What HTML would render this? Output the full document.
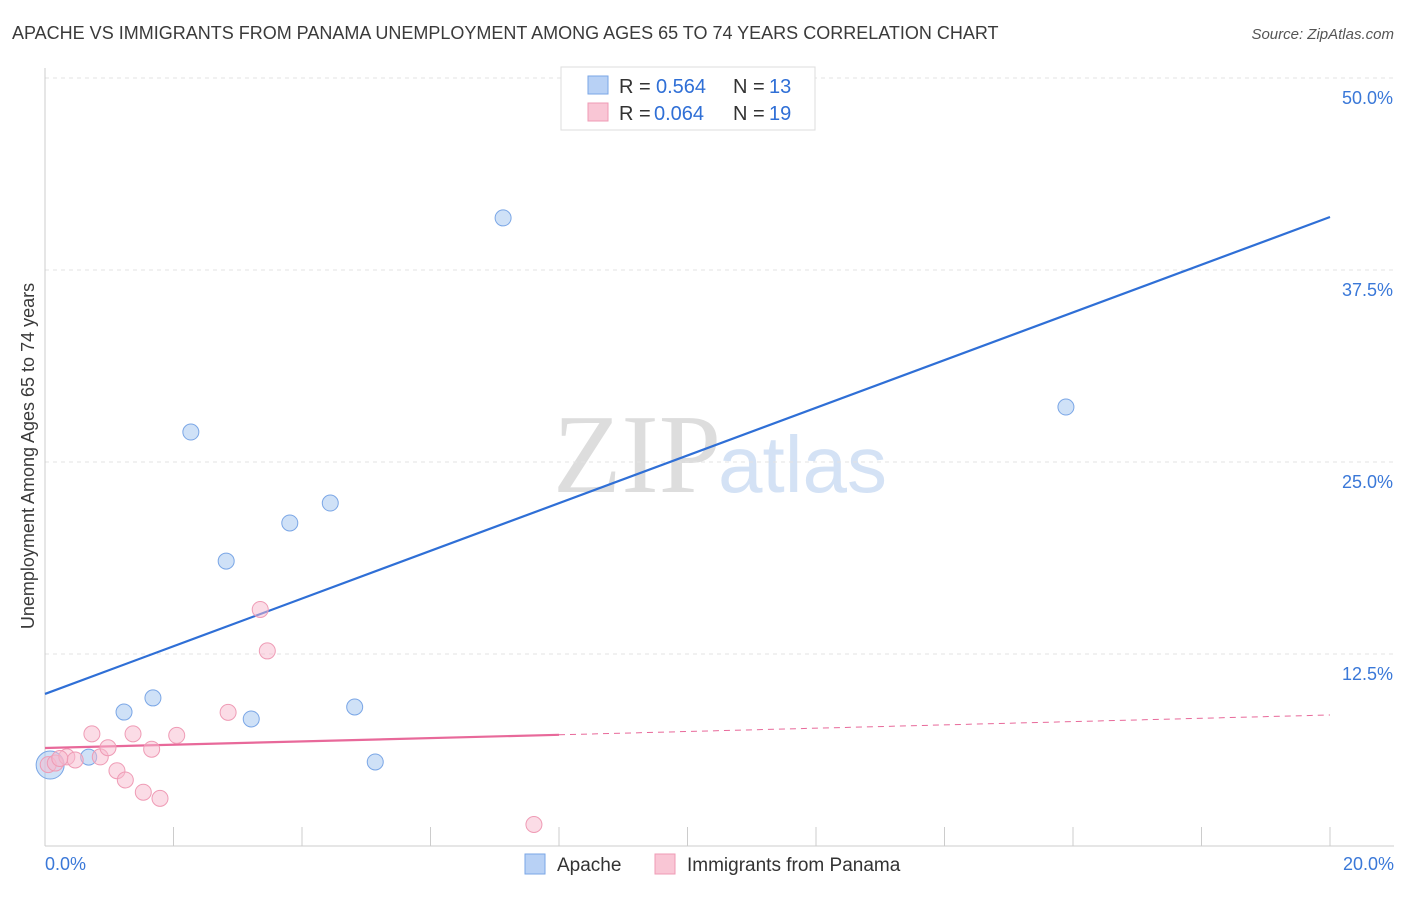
<!DOCTYPE html>
<html><head><meta charset="utf-8"><style>
body{margin:0;background:#fff;font-family:"Liberation Sans",sans-serif}
</style></head><body>
<svg width="1406" height="892" id="svg" xmlns="http://www.w3.org/2000/svg">
<text x="12" y="39" font-size="18" fill="#3a3a3a">APACHE VS IMMIGRANTS FROM PANAMA UNEMPLOYMENT AMONG AGES 65 TO 74 YEARS CORRELATION CHART</text>
<text x="1394" y="39" font-size="15" fill="#555" font-style="italic" text-anchor="end">Source: ZipAtlas.com</text>
<text x="553" y="492" font-size="112" fill="#ddd" font-family="Liberation Serif">ZIP</text>
<text x="718" y="492" font-size="80" fill="#d4e2f5">atlas</text>
<text transform="translate(34,456) rotate(-90)" font-size="18" fill="#3a3a3a" text-anchor="middle">Unemployment Among Ages 65 to 74 years</text>
<g id="grid"></g><g id="marks"></g>
<g>
<rect x="561" y="67" width="254" height="63" fill="#fff" stroke="#ddd"/>
<rect x="588" y="76" width="20" height="18" fill="#b8d1f5" stroke="#7aa6e6"/>
<rect x="588" y="103" width="20" height="18" fill="#f9c6d5" stroke="#ef9bb5"/>
<text x="619" y="93" font-size="20" fill="#333">R =</text><text x="656" y="93" font-size="20" fill="#2f6fd6">0.564</text>
<text x="733" y="93" font-size="20" fill="#333">N =</text><text x="769" y="93" font-size="20" fill="#2f6fd6">13</text>
<text x="619" y="120" font-size="20" fill="#333">R =</text><text x="654" y="120" font-size="20" fill="#2f6fd6">0.064</text>
<text x="733" y="120" font-size="20" fill="#333">N =</text><text x="769" y="120" font-size="20" fill="#2f6fd6">19</text>
</g>
<g>
<rect x="525" y="854" width="20" height="20" fill="#b8d1f5" stroke="#7aa6e6"/>
<text x="557" y="871" font-size="19" fill="#333">Apache</text>
<rect x="655" y="854" width="20" height="20" fill="#f9c6d5" stroke="#ef9bb5"/>
<text x="687" y="871" font-size="19" fill="#333">Immigrants from Panama</text>
</g>
</svg>
<script>
const yTicks=[12.5,25,37.5,50];
const yTickLabels=["12.5%","25.0%","37.5%","50.0%"];
const xTickLabels=["0.0%","20.0%"];
const apacheX=[0.08,0.68,1.23,1.68,2.27,2.82,3.21,3.81,4.44,4.82,5.14,7.13,15.89];
const apacheY=[5.27,5.79,8.72,9.64,26.95,18.55,8.27,21.03,22.33,9.05,5.47,40.89,28.58];
const panamaX=[0.05,0.16,0.34,0.47,0.73,0.86,0.98,1.12,1.25,1.37,1.53,1.66,1.79,2.05,2.85,3.35,3.46,7.61,0.23];
const panamaY=[5.3,5.4,5.8,5.6,7.3,5.8,6.4,4.9,4.3,7.3,3.5,6.3,3.1,7.2,8.7,15.4,12.7,1.4,5.7];
const apacheLine=[9.9,40.95];
const panamaLine=[6.38,8.53];
const X=v=>45+v*64.25, Y=v=>846-v*15.36;
const NS="http://www.w3.org/2000/svg";
function mk(t,a,p){const e=document.createElementNS(NS,t);for(const k in a)e.setAttribute(k,a[k]);document.getElementById(p).appendChild(e);return e;}
const g="grid";
yTicks.forEach((v,i)=>{
 const l=mk("line",{x1:45,x2:1394,y1:Y(v),y2:Y(v),stroke:"#e3e3e3","stroke-dasharray":"4,4"},g);
 
 
 const t=mk("text",{x:1393,y:Y(v)+26,"font-size":18,fill:"#3a78d8","text-anchor":"end"},g);t.textContent=yTickLabels[i];
 
 
});
mk("line",{x1:45,x2:1394,y1:846,y2:846,stroke:"#ccc"},g);
mk("line",{x1:45,x2:45,y1:68,y2:846,stroke:"#ccc"},g);
for(let i=0;i<=10;i++){mk("line",{x1:X(i*2),x2:X(i*2),y1:827,y2:846,stroke:"#ccc"},g);}
[0,20].forEach((v,i)=>{const t=mk("text",{x:i?1394:45,y:870,"font-size":18,fill:"#3a78d8","text-anchor":i?"end":"start"},g);t.textContent=xTickLabels[i];
 
 });
const m="marks";
let l1=mk("line",{x1:X(0),y1:Y(apacheLine[0]),x2:X(20),y2:Y(apacheLine[1]),stroke:"#2f6fd6","stroke-width":2.2},m);


const pm=v=>panamaLine[0]+(panamaLine[1]-panamaLine[0])*v/20;
let l2=mk("line",{x1:X(0),y1:Y(pm(0)),x2:X(8),y2:Y(pm(8)),stroke:"#e8699a","stroke-width":2.2},m);


let l3=mk("line",{x1:X(8),y1:Y(pm(8)),x2:X(20),y2:Y(pm(20)),stroke:"#e8699a","stroke-width":1,"stroke-dasharray":"6,5"},m);


apacheX.forEach((x,i)=>{const c=mk("circle",{cx:X(x),cy:Y(apacheY[i]),r:i==0?14:8,fill:"rgba(160,195,240,0.5)",stroke:"#7aa6e6"},m);
 
 });
panamaX.forEach((x,i)=>{const c=mk("circle",{cx:X(x),cy:Y(panamaY[i]),r:8,fill:"rgba(248,185,205,0.5)",stroke:"#ef9bb5"},m);
 
 });
</script>
</body></html>
